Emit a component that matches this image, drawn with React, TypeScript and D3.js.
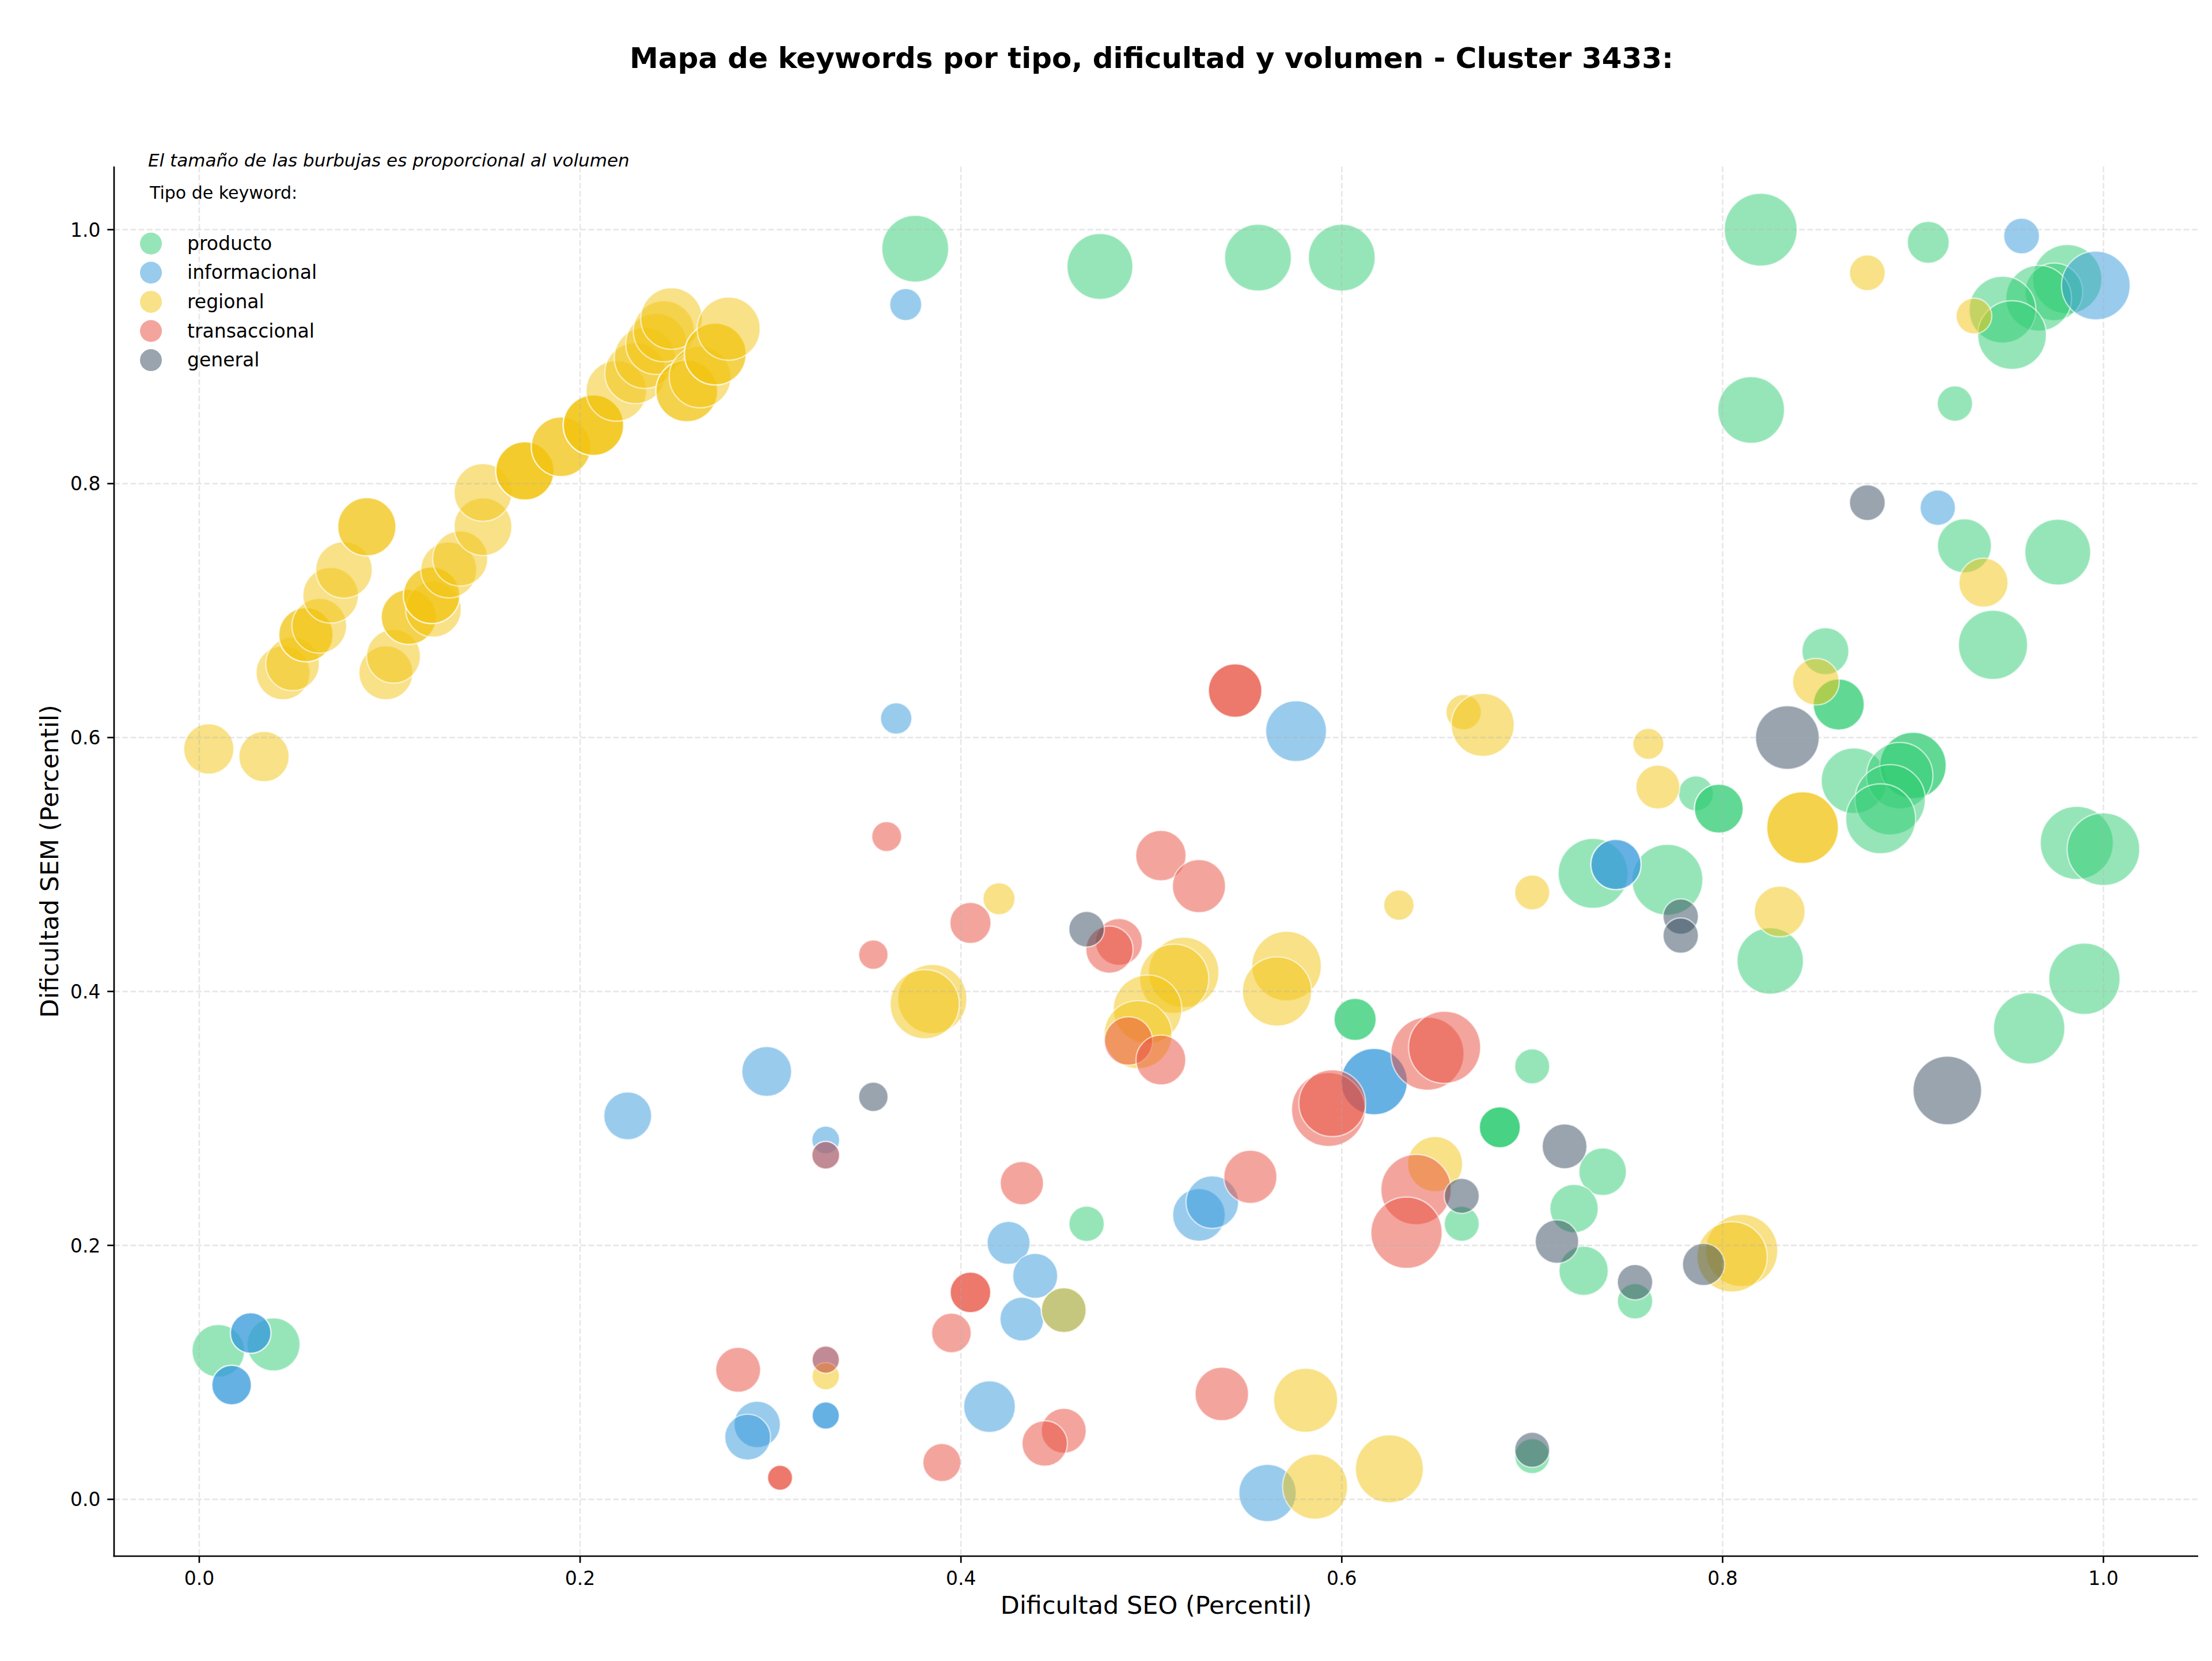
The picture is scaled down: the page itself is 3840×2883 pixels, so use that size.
import React, { useEffect } from "react";
import * as d3 from "d3";

// [dificultad SEO, dificultad SEM, volumen]
type Kw = [number, number, number];

const producto: Kw[] = [
  [0.376, 0.985, 3360], [0.473, 0.971, 3270], [0.556, 0.978, 3360], [0.600, 0.978, 3360],
  [0.820, 1.000, 3990], [0.908, 0.990, 1320], [0.981, 0.961, 3600], [0.974, 0.951, 2500],
  [0.966, 0.946, 3250], [0.947, 0.937, 3360], [0.952, 0.917, 3550], [0.815, 0.858, 3350],
  [0.922, 0.863, 940], [0.927, 0.751, 2190], [0.976, 0.746, 3260], [0.942, 0.673, 3600],
  [0.854, 0.668, 1660], [0.861, 0.626, 1970], [0.861, 0.626, 1970], [0.786, 0.556, 920],
  [0.798, 0.544, 1800], [0.798, 0.544, 1800], [0.869, 0.566, 3230], [0.900, 0.578, 3320],
  [0.900, 0.578, 3320], [0.893, 0.570, 3320], [0.888, 0.551, 3720], [0.883, 0.536, 3680],
  [0.986, 0.517, 4020], [1.000, 0.512, 3970], [0.732, 0.493, 3680], [0.771, 0.488, 3780],
  [0.825, 0.424, 3320], [0.990, 0.410, 3830], [0.961, 0.371, 3830], [0.700, 0.341, 920],
  [0.607, 0.378, 1340], [0.607, 0.378, 1340], [0.683, 0.293, 1270], [0.683, 0.293, 1270],
  [0.683, 0.293, 1270], [0.737, 0.258, 1700], [0.722, 0.229, 1760], [0.727, 0.180, 1830],
  [0.754, 0.156, 940], [0.700, 0.034, 920], [0.466, 0.217, 940], [0.663, 0.217, 920],
  [0.010, 0.117, 2080], [0.039, 0.122, 2120],
];

const informacional: Kw[] = [
  [0.371, 0.941, 770], [0.957, 0.995, 960], [0.996, 0.956, 3550], [0.913, 0.781, 940],
  [0.366, 0.615, 740], [0.576, 0.605, 2780], [0.744, 0.500, 1900], [0.744, 0.500, 1900],
  [0.617, 0.329, 3320], [0.617, 0.329, 3320], [0.298, 0.337, 1870], [0.225, 0.302, 1720],
  [0.329, 0.283, 580], [0.329, 0.271, 580], [0.329, 0.110, 560], [0.329, 0.066, 560],
  [0.329, 0.066, 560], [0.425, 0.202, 1390], [0.439, 0.176, 1520], [0.432, 0.142, 1440],
  [0.454, 0.149, 1520], [0.415, 0.073, 2010], [0.525, 0.224, 2080], [0.532, 0.234, 2080],
  [0.561, 0.005, 2470], [0.027, 0.131, 1240], [0.027, 0.131, 1240], [0.017, 0.090, 1180],
  [0.017, 0.090, 1180], [0.293, 0.059, 1620], [0.288, 0.049, 1580],
];

const regional: Kw[] = [
  [0.005, 0.591, 1900], [0.034, 0.585, 1900], [0.044, 0.651, 2180], [0.049, 0.658, 2160],
  [0.056, 0.681, 2210], [0.056, 0.681, 2210], [0.063, 0.688, 2250], [0.069, 0.712, 2320],
  [0.076, 0.732, 2400], [0.088, 0.766, 2550], [0.088, 0.766, 2550], [0.098, 0.651, 2180],
  [0.102, 0.664, 2180], [0.110, 0.695, 2280], [0.110, 0.695, 2280], [0.123, 0.701, 2320],
  [0.122, 0.712, 2400], [0.122, 0.712, 2400], [0.131, 0.732, 2360], [0.137, 0.741, 2280],
  [0.149, 0.766, 2510], [0.149, 0.793, 2510], [0.171, 0.810, 2550], [0.171, 0.810, 2550],
  [0.171, 0.810, 2550], [0.190, 0.829, 2670], [0.190, 0.829, 2670], [0.207, 0.846, 2750],
  [0.207, 0.846, 2750], [0.207, 0.846, 2750], [0.219, 0.873, 2750], [0.229, 0.887, 2810],
  [0.234, 0.899, 2810], [0.240, 0.910, 2810], [0.244, 0.920, 2810], [0.248, 0.930, 2860],
  [0.256, 0.873, 2870], [0.256, 0.873, 2870], [0.263, 0.884, 2870], [0.271, 0.902, 2870],
  [0.271, 0.902, 2870], [0.278, 0.922, 2990],
  [0.876, 0.966, 960], [0.932, 0.932, 960], [0.937, 0.722, 1810], [0.849, 0.644, 1640],
  [0.664, 0.620, 940], [0.674, 0.610, 2990], [0.761, 0.595, 720], [0.766, 0.561, 1450],
  [0.842, 0.529, 3870], [0.842, 0.529, 3870], [0.700, 0.478, 920], [0.830, 0.463, 1940],
  [0.630, 0.468, 690], [0.420, 0.473, 770], [0.517, 0.415, 3720], [0.512, 0.410, 3600],
  [0.498, 0.386, 3530], [0.493, 0.366, 3480], [0.571, 0.420, 3640], [0.566, 0.400, 3600],
  [0.385, 0.394, 3600], [0.381, 0.390, 3600], [0.649, 0.264, 2280], [0.454, 0.149, 1520],
  [0.329, 0.097, 560], [0.581, 0.078, 3080], [0.625, 0.024, 3470], [0.586, 0.010, 3180],
  [0.810, 0.196, 3920], [0.805, 0.191, 3720],
];

const transaccional: Kw[] = [
  [0.544, 0.637, 2150], [0.544, 0.637, 2150], [0.361, 0.522, 670], [0.505, 0.507, 1910],
  [0.525, 0.483, 2120], [0.405, 0.454, 1270], [0.483, 0.439, 1650], [0.478, 0.433, 1680],
  [0.354, 0.429, 650], [0.488, 0.361, 1760], [0.505, 0.346, 1870], [0.645, 0.351, 4020],
  [0.654, 0.356, 3910], [0.593, 0.307, 4100], [0.595, 0.312, 3360], [0.329, 0.271, 580],
  [0.432, 0.249, 1410], [0.552, 0.254, 2120], [0.639, 0.244, 3720], [0.634, 0.210, 3820],
  [0.405, 0.163, 1240], [0.405, 0.163, 1240], [0.395, 0.131, 1180], [0.329, 0.110, 560],
  [0.283, 0.102, 1520], [0.537, 0.083, 2150], [0.454, 0.054, 1520], [0.444, 0.044, 1550],
  [0.390, 0.029, 1090], [0.305, 0.017, 470], [0.305, 0.017, 470],
];

const general: Kw[] = [
  [0.876, 0.785, 960], [0.834, 0.600, 3050], [0.778, 0.459, 940], [0.778, 0.444, 940],
  [0.466, 0.449, 950], [0.354, 0.317, 650], [0.918, 0.322, 3540], [0.717, 0.278, 1510],
  [0.713, 0.203, 1420], [0.754, 0.171, 940], [0.790, 0.185, 1340], [0.663, 0.239, 920],
  [0.700, 0.039, 920],
];

const tipos = ["producto", "informacional", "regional", "transaccional", "general"];
const colores = ["#2ecc71", "#3498db", "#f1c40f", "#e74c3c", "#34495e"];
const xTicks = [0, 0.2, 0.4, 0.6, 0.8, 1.0];
const yTicks = [0, 0.2, 0.4, 0.6, 0.8, 1.0];

const W = 3840;
const H = 2883;
const margin = { top: 289, right: 24, bottom: 182, left: 198 };
const font = "DejaVu Sans, Verdana, sans-serif";

export default function App() {
  useEffect(() => {
    document.body.style.margin = "0";
  }, []);

  const series = [producto, informacional, regional, transaccional, general];
  const todos = series.flat();

  // 5% de margen sobre el rango de los datos
  const pad = (ext: [number, number]): [number, number] => {
    const d = ext[1] - ext[0];
    return [ext[0] - d * 0.05, ext[1] + d * 0.05];
  };
  const xDom = pad(d3.extent(todos, (d) => d[0]) as [number, number]);
  const yDom = pad(d3.extent(todos, (d) => d[1]) as [number, number]);

  const x = d3.scaleLinear().domain(xDom).range([margin.left, W - margin.right]);
  const y = d3.scaleLinear().domain(yDom).range([H - margin.bottom, margin.top]);
  const r = d3.scaleSqrt().domain([0, 4100]).range([0, 64]);
  const fmt = d3.format(".1f");

  const x0 = margin.left;
  const x1 = W - margin.right;
  const y0 = H - margin.bottom;
  const y1 = margin.top;
  const cx = (x0 + x1) / 2;
  const cy = (y0 + y1) / 2;

  return (
    <svg width={W} height={H} style={{ display: "block", background: "#fff" }} fontFamily={font}>
      <text x={cx - 8} y={118} textAnchor="middle" fontSize={50} fontWeight="bold">
        Mapa de keywords por tipo, dificultad y volumen - Cluster 3433:
      </text>

      {series.map((datos, i) => (
        <g key={tipos[i]}>
          {datos.map((d, j) => (
            <circle
              key={j}
              cx={x(d[0])}
              cy={y(d[1])}
              r={r(d[2])}
              fill={colores[i]}
              fillOpacity={0.5}
              stroke="#fff"
              strokeOpacity={0.6}
              strokeWidth={2.4}
            />
          ))}
        </g>
      ))}

      <g stroke="#b0b0b0" strokeOpacity={0.3} strokeWidth={2.67} strokeDasharray="9.9 4.3">
        {xTicks.map((t) => (
          <line key={"gx" + t} x1={x(t)} x2={x(t)} y1={y1} y2={y0} />
        ))}
        {yTicks.map((t) => (
          <line key={"gy" + t} x1={x0} x2={x1} y1={y(t)} y2={y(t)} />
        ))}
      </g>

      <g stroke="#000" strokeWidth={2.67}>
        <line x1={x0} x2={x0} y1={y1} y2={y0 + 1.3} />
        <line x1={x0 - 1.3} x2={x1} y1={y0} y2={y0} />
        {xTicks.map((t) => (
          <line key={"tx" + t} x1={x(t)} x2={x(t)} y1={y0} y2={y0 + 11.7} />
        ))}
        {yTicks.map((t) => (
          <line key={"ty" + t} x1={x0} x2={x0 - 11.7} y1={y(t)} y2={y(t)} />
        ))}
      </g>

      <g fontSize={33} fill="#000">
        {xTicks.map((t) => (
          <text key={"lx" + t} x={x(t)} y={y0 + 50} textAnchor="middle">
            {fmt(t)}
          </text>
        ))}
        {yTicks.map((t) => (
          <text key={"ly" + t} x={x0 - 23.4} y={y(t) + 12} textAnchor="end">
            {fmt(t)}
          </text>
        ))}
      </g>

      <text x={cx} y={2801} textAnchor="middle" fontSize={43}>
        Dificultad SEO (Percentil)
      </text>
      <text transform={`translate(101,${cy}) rotate(-90)`} textAnchor="middle" fontSize={43}>
        Dificultad SEM (Percentil)
      </text>

      <text x={257} y={289} fontSize={31} fontStyle="italic">
        El tamaño de las burbujas es proporcional al volumen
      </text>
      <text x={260} y={345} fontSize={30}>
        Tipo de keyword:
      </text>
      {tipos.map((t, i) => (
        <g key={"leg" + t} transform={`translate(0,${422.7 + i * 50.6})`}>
          <circle cx={262} cy={0} r={19} fill={colores[i]} fillOpacity={0.5} />
          <text x={325} y={11} fontSize={33}>
            {t}
          </text>
        </g>
      ))}
    </svg>
  );
}
